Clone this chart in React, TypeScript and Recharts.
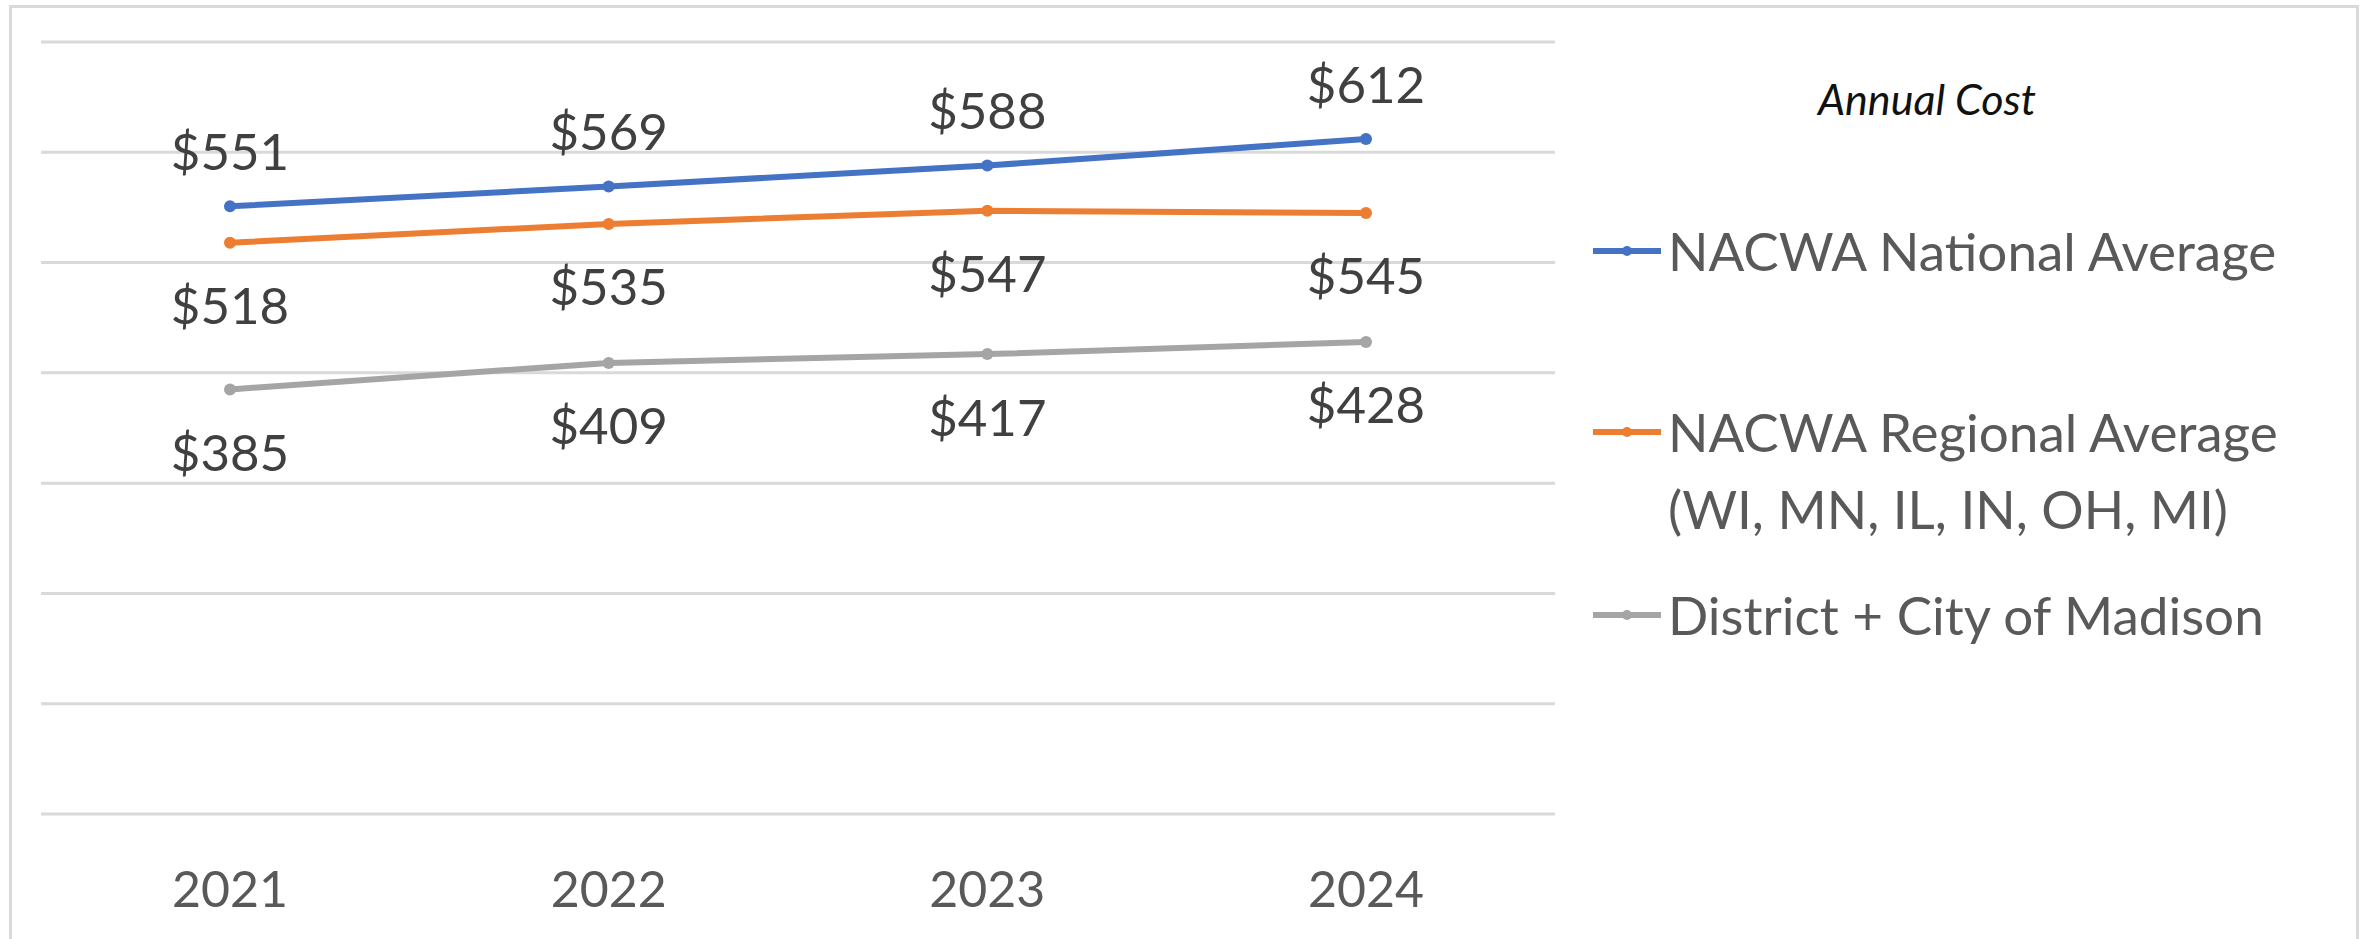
import React from 'react';
import { LineChart, Line, XAxis, YAxis, CartesianGrid, LabelList, Legend } from 'recharts';

const years = ['2021', '2022', '2023', '2024'];
const nationalAvg = [551, 569, 588, 612];
const regionalAvg = [518, 535, 547, 545];
const madison = [385, 409, 417, 428];
const yTicks = [0, 100, 200, 300, 400, 500, 600, 700];
const chartTitle = 'Annual Cost';

const seriesDefs = [
  { key: 'national', name: 'NACWA National Average', lines: ['NACWA National Average'], color: '#4472C4', labelDy: -56 },
  { key: 'regional', name: 'NACWA Regional Average (WI, MN, IL, IN, OH, MI)', lines: ['NACWA Regional Average', '(WI, MN, IL, IN, OH, MI)'], color: '#ED7D31', labelDy: 62 },
  { key: 'madison', name: 'District + City of Madison', lines: ['District + City of Madison'], color: '#A5A5A5', labelDy: 62 },
];

const data = years.map((y, i) => ({
  year: y,
  national: nationalAvg[i],
  regional: regionalAvg[i],
  madison: madison[i],
}));

const FONT = 'Lato, "Open Sans", sans-serif';

const makeLabel = (dy: number) => (props: any) => {
  const { x, y, value } = props;
  if (x == null || y == null) return null;
  return (
    <text
      x={x}
      y={y + dy}
      textAnchor="middle"
      dominantBaseline="central"
      fontFamily={FONT}
      fontSize={51}
      fill="#404040"
    >
      {`$${value}`}
    </text>
  );
};

const XTick = (props: any) => {
  const { x, y, payload } = props;
  return (
    <text x={x} y={y + 74} textAnchor="middle" dominantBaseline="central" fontFamily={FONT} fontSize={50} fill="#595959">
      {payload.value}
    </text>
  );
};

const legendRows = [251, 432, 615];

const LegendContent = () => (
  <div style={{ position: 'absolute', left: 0, top: 0, width: 2369, height: 939, pointerEvents: 'none', fontFamily: FONT }}>
    <div
      style={{
        position: 'absolute',
        left: 1927 - 200,
        width: 400,
        top: 99 - 30,
        height: 60,
        lineHeight: '60px',
        textAlign: 'center',
        fontStyle: 'italic',
        fontSize: 43,
        color: '#111',
      }}
    >
      {chartTitle}
    </div>
    {seriesDefs.map((s, i) => (
      <div key={s.key} style={{ position: 'absolute', left: 1593, top: legendRows[i] - 37 }}>
        <svg width={70} height={74} style={{ position: 'absolute', left: 0, top: 0 }}>
          <line x1={0} y1={37} x2={68} y2={37} stroke={s.color} strokeWidth={6} />
          <circle cx={34} cy={37} r={5} fill={s.color} />
        </svg>
        {s.lines.map((t, j) => (
          <div
            key={j}
            style={{
              position: 'absolute',
              left: 75,
              top: j * 77,
              height: 74,
              lineHeight: '74px',
              whiteSpace: 'nowrap',
              fontSize: 53,
              color: '#595959',
            }}
          >
            {t}
          </div>
        ))}
      </div>
    ))}
  </div>
);

export default function App() {
  return (
    <div style={{ position: 'absolute', left: 0, top: 0, width: 2369, height: 939, overflow: 'hidden', background: '#fff' }}>
      <div
        style={{
          position: 'absolute',
          left: 9,
          top: 5,
          width: 2350,
          height: 1000,
          boxSizing: 'border-box',
          border: '3px solid #D9D9D9',
        }}
      />
      <div style={{ position: 'absolute', left: 0, top: 0 }}>
        <LineChart width={2369} height={939} data={data} margin={{ top: 42, left: 41, right: 814, bottom: 65 }}>
          <CartesianGrid vertical={false} stroke="#D9D9D9" strokeWidth={3} />
          <XAxis
            dataKey="year"
            axisLine={false}
            tickLine={false}
            tickSize={0}
            tickMargin={0}
            height={60}
            padding={{ left: 189, right: 189 }}
            tick={<XTick />}
            interval={0}
          />
          <YAxis hide width={0} domain={[0, 700]} ticks={yTicks} />
          <Legend
            layout="horizontal"
            align="center"
            verticalAlign="middle"
            content={<LegendContent />}
            wrapperStyle={{ position: 'absolute', left: 0, top: 0, width: 2369, height: 939 }}
          />
          {seriesDefs.map((s) => (
            <Line
              key={s.key}
              dataKey={s.key}
              name={s.name}
              stroke={s.color}
              strokeWidth={6}
              dot={{ r: 6, fill: s.color, stroke: 'none' }}
              activeDot={false}
              isAnimationActive={false}
            >
              <LabelList dataKey={s.key} content={makeLabel(s.labelDy)} />
            </Line>
          ))}
        </LineChart>
      </div>
    </div>
  );
}
